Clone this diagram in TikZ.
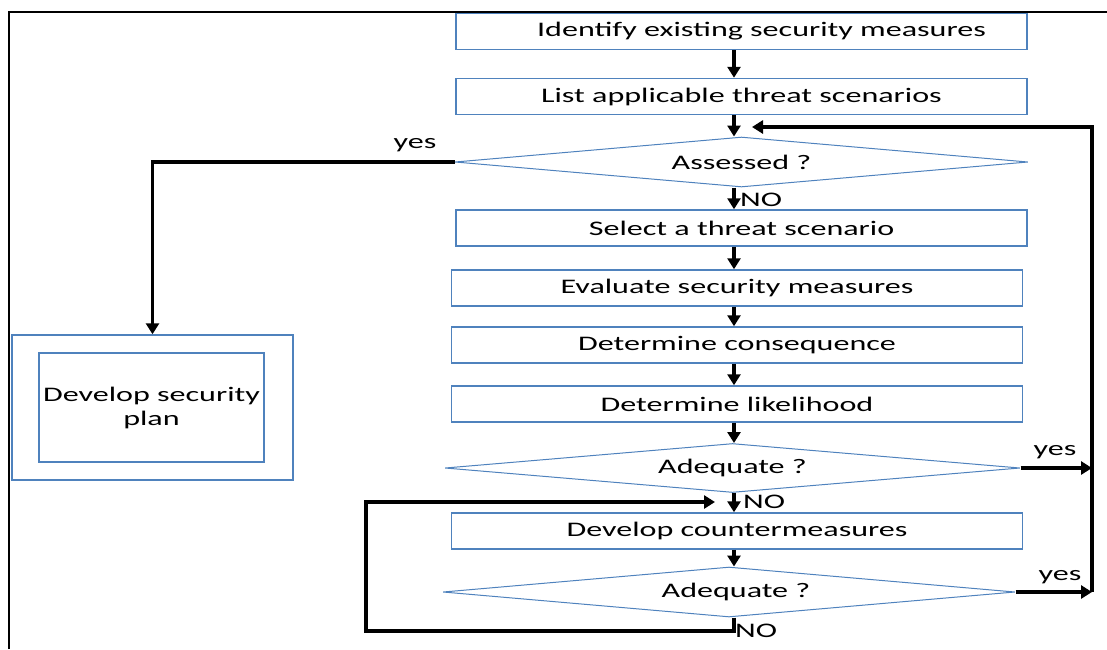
\documentclass[tikz,border=0pt]{standalone}
\usepackage{fontspec}
\setmainfont{Carlito}[FakeStretch=1.55]
\usetikzlibrary{arrows.meta, shapes.geometric}
\definecolor{officeblue}{rgb}{0.31, 0.51, 0.74}

\tikzset{
  stepbox/.style={draw=officeblue, line width=1.5pt, minimum width=571pt, minimum height=36pt, inner sep=0pt},
  query/.style={diamond, aspect=11.5, draw=officeblue, line width=1pt, inner sep=0pt, minimum width=573pt, minimum height=50pt},
  flow/.style={line width=3.5pt, -{Triangle[width=13pt, length=11pt]}},
  tag/.style={inner sep=0pt}
}

\begin{document}
\begin{tikzpicture}[x=1pt, y=-1pt, font=\fontsize{20.7}{24}\selectfont]

  \useasboundingbox (0, 0) rectangle (1107, 649);
  \draw[line width=2pt] (9, 649) -- (9, 12) -- (1107, 12);

  \node[stepbox] (id)      at (741.5,  31.5) {\hspace*{40pt}Identify existing security measures};
  \node[stepbox] (list)    at (741.5,  96.5) {List applicable threat scenarios};
  \node[query]   (assess)  at (741.5, 162)   {Assessed ?};
  \node[stepbox] (select)  at (741.5, 228)   {Select a threat scenario};
  \node[stepbox] (eval)    at (737,   288)   {Evaluate security measures};
  \node[stepbox] (conseq)  at (737,   345)   {Determine consequence};
  \node[stepbox] (likeli)  at (737,   404)   {Determine likelihood};
  \node[query, minimum width=575pt, minimum height=49pt] (adeqA) at (732.5, 468) {Adequate ?};
  \node[stepbox] (counter) at (737,   531)   {Develop countermeasures};
  \node[query, minimum width=572pt] (adeqB) at (729, 592) {\hspace*{14pt}Adequate ?};

  \node[stepbox, minimum width=281pt, minimum height=145pt] (planframe) at (152.5, 407.5) {};
  \node[stepbox, minimum width=225pt, minimum height=109pt, align=center] (plan) at (151.5, 407.5) {Develop security\\plan};

  \coordinate (spine)   at (734, 0);
  \coordinate (rail)    at (1092, 0);
  \coordinate (lowturn) at (366, 631);
  \coordinate (reenter) at (715, 502);
  \coordinate (topback) at (752, 127);

  \foreach \a/\b in {id/list, list/assess, assess/select, select/eval, eval/conseq,
                     conseq/likeli, likeli/adeqA, adeqA/counter, counter/adeqB}
    \draw[flow] (\a.south -| spine) -- (\b.north -| spine);

  \draw[flow] (assess.west) -| (planframe.north);
  \draw[flow] (adeqB.south -| spine) |- (lowturn) |- (reenter);
  \draw[flow] (adeqA.east) -- (adeqA.east -| rail);
  \draw[flow] (adeqB.east) -- (adeqB.east -| rail);
  \draw[flow] (adeqB.east -| rail) |- (topback);

  \node[tag] (yesA) at (415,  145) {yes};
  \node[tag] (yesB) at (1055, 452) {yes};
  \node[tag] (yesC) at (1060, 577) {yes};
  \node[tag] (noA)  at (761,  200) {NO};
  \node[tag] (noB)  at (764,  502) {NO};
  \node[tag] (noC)  at (756,  631) {NO};

\end{tikzpicture}
\end{document}
